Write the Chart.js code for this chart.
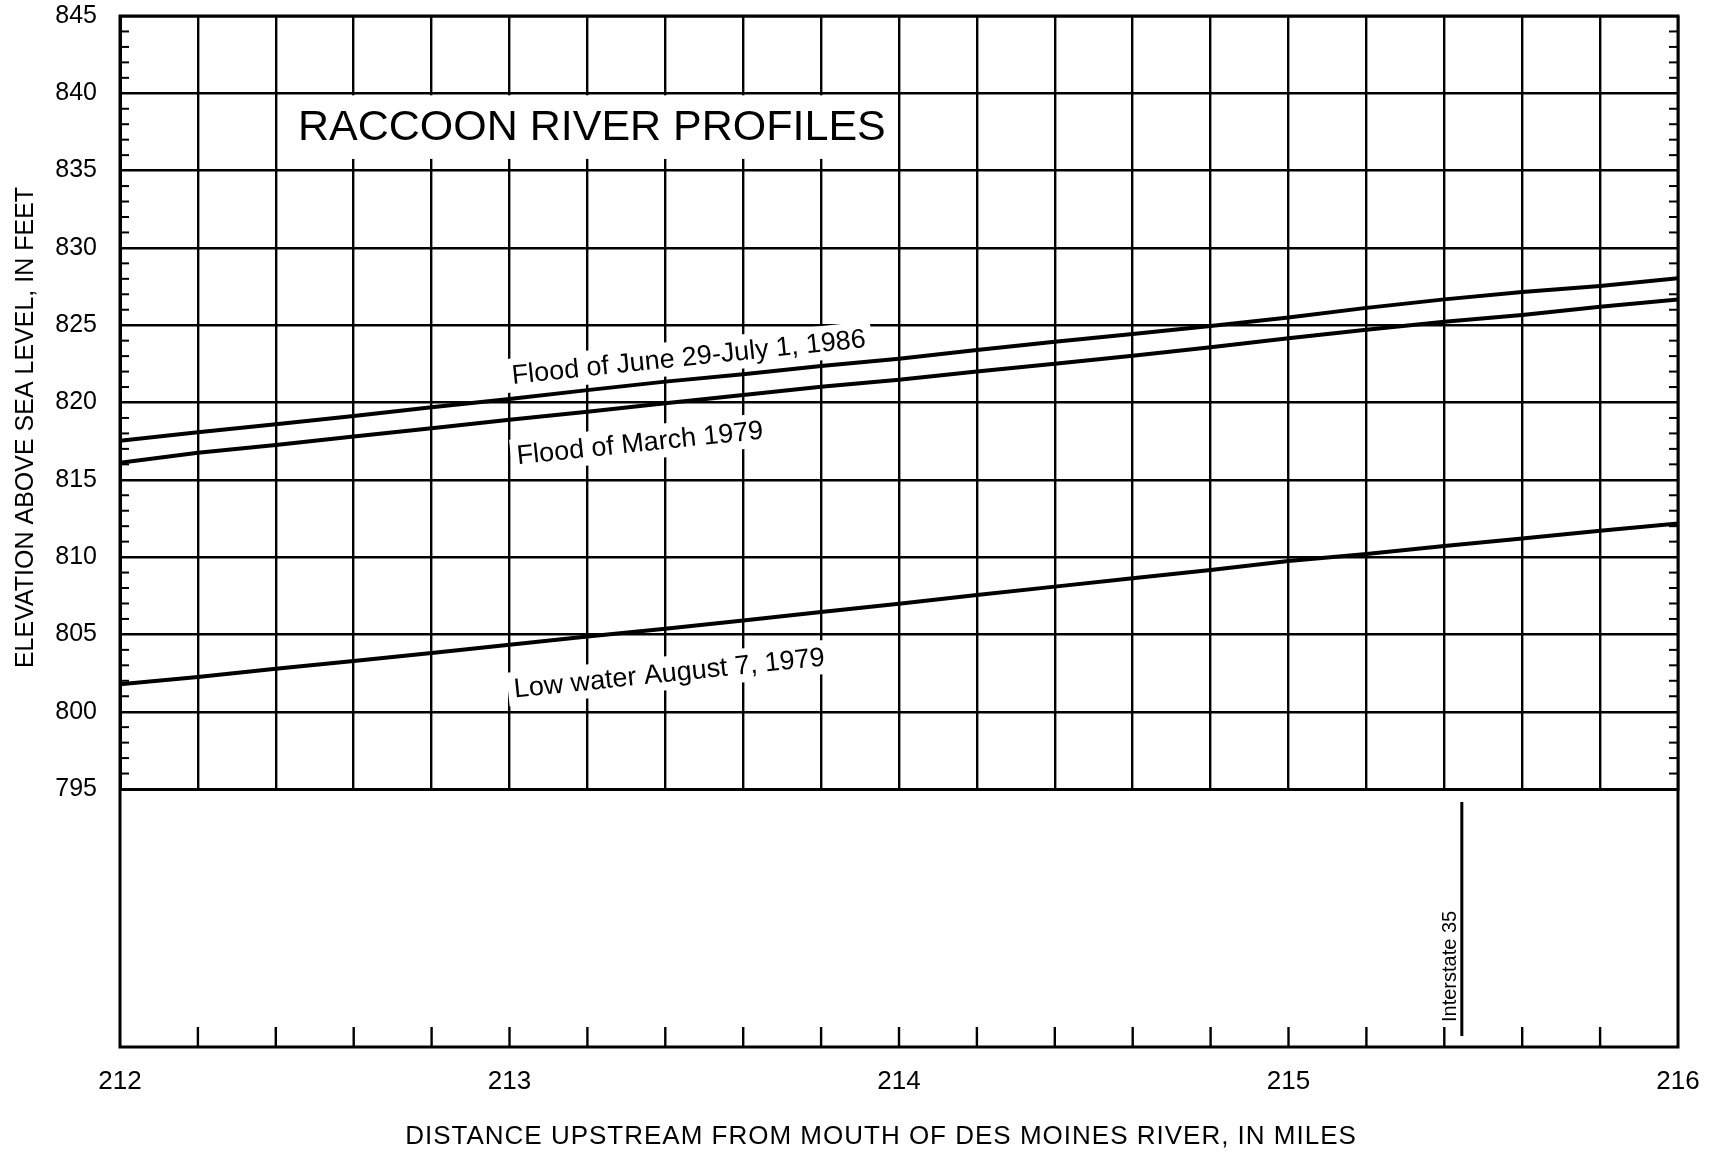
<!DOCTYPE html>
<html>
<head>
<meta charset="utf-8">
<title>Raccoon River profiles</title>
<script src="https://cdn.jsdelivr.net/npm/chart.js@4.4.1/dist/chart.umd.min.js"></script>
<style>
  html, body { margin: 0; padding: 0; background: #fff; overflow: hidden; }
  canvas { display: block; }
</style>
</head>
<body>
<canvas id="profileChart" width="1728" height="1155"></canvas>
<script>
// river miles read every 0.2 mile off the chart
const miles = [212.0, 212.2, 212.4, 212.6, 212.8, 213.0, 213.2, 213.4, 213.6, 213.8,
               214.0, 214.2, 214.4, 214.6, 214.8, 215.0, 215.2, 215.4, 215.6, 215.8, 216.0];
const flood1986 = [817.53, 818.07, 818.60, 819.13, 819.69, 820.22, 820.80, 821.35, 821.82, 822.36,
                   822.83, 823.40, 823.93, 824.43, 824.95, 825.50, 826.12, 826.67, 827.14, 827.54, 828.03];
const flood1979 = [816.10, 816.75, 817.25, 817.80, 818.33, 818.88, 819.40, 819.95, 820.48, 821.02,
                   821.47, 822.00, 822.50, 823.03, 823.57, 824.15, 824.70, 825.23, 825.66, 826.20, 826.67];
const lowWater1979 = [801.77, 802.24, 802.78, 803.28, 803.80, 804.33, 804.87, 805.36, 805.90, 806.45,
                      806.98, 807.55, 808.09, 808.63, 809.17, 809.75, 810.20, 810.72, 811.20, 811.70, 812.18];
const seriesNames = ['Flood of June 29-July 1, 1986', 'Flood of March 1979', 'Low water August 7, 1979'];
const xTickLabels = ['212', '213', '214', '215', '216'];
const landmarkNames = ['Interstate 35'];
const landmarkMiles = [215.445];
const chartTitle = 'RACCOON RIVER PROFILES';
const xTitle = 'DISTANCE UPSTREAM FROM MOUTH OF DES MOINES RIVER, IN MILES';
const yTitle = 'ELEVATION ABOVE SEA LEVEL, IN FEET';

const FONT = '"Liberation Sans", Arial, Helvetica, sans-serif';
// where each profile name sits (mile, elevation)
const labelAnchors = [[213.46, 822.94], [213.335, 817.38], [213.41, 802.5]];
const LOWER_PANEL = 258; // blank strip under 795 ft

function line(ctx, x1, y1, x2, y2) {
	ctx.beginPath();
	ctx.moveTo(x1, y1);
	ctx.lineTo(x2, y2);
	ctx.stroke();
}

const profilePlugin = {
	id: 'profile',
	beforeDatasetsDraw(chart) {
		const { ctx, scales: { x, y } } = chart;
		ctx.save();
		// title with white box over the grid
		ctx.font = '43px ' + FONT;
		const tx = x.getPixelForValue(212.457), ty = y.getPixelForValue(837.76);
		const tw = ctx.measureText(chartTitle).width;
		const boxTop = y.getPixelForValue(840) + 2;
		ctx.fillStyle = '#fff';
		ctx.fillRect(tx - 12, boxTop, tw + 20, ty + 31 - boxTop);
		ctx.fillStyle = '#000';
		ctx.textBaseline = 'middle';
		ctx.fillText(chartTitle, tx, ty);

		// profile names, tilted along their line
		ctx.font = '27px ' + FONT;
		ctx.textAlign = 'center';
		chart.data.datasets.forEach((ds, i) => {
			const d = ds.data, n = d.length;
			const ang = Math.atan2(y.getPixelForValue(d[n - 1].y) - y.getPixelForValue(d[0].y),
				x.getPixelForValue(d[n - 1].x) - x.getPixelForValue(d[0].x));
			const px = x.getPixelForValue(labelAnchors[i][0]);
			const py = y.getPixelForValue(labelAnchors[i][1]);
			ctx.save();
			ctx.translate(px, py);
			ctx.rotate(ang);
			const w = ctx.measureText(ds.label).width;
			ctx.fillStyle = '#fff';
			ctx.fillRect(-w / 2 - 6, -17, w + 12, 34);
			ctx.fillStyle = '#000';
			ctx.fillText(ds.label, 0, 1);
			ctx.restore();
		});
		ctx.restore();
	},
	afterDraw(chart) {
		const { ctx, chartArea: a, scales: { x, y } } = chart;
		const bottom = a.bottom + LOWER_PANEL;
		ctx.save();
		ctx.strokeStyle = '#000';
		ctx.lineWidth = 3;
		ctx.strokeRect(a.left, a.top, a.right - a.left, bottom - a.top);

		// 1-ft ticks inside both sides
		ctx.lineWidth = 2;
		for (let v = y.min + 1; v < y.max; v++) {
			if (v % 5 === 0) continue;
			const py = y.getPixelForValue(v);
			line(ctx, a.left, py, a.left + 9, py);
			line(ctx, a.right - 9, py, a.right, py);
		}
		// 0.2-mile ticks on the bottom edge
		ctx.lineWidth = 2.4;
		x.ticks.forEach(t => {
			if (t.value <= x.min || t.value >= x.max) return;
			const px = x.getPixelForValue(t.value);
			line(ctx, px, bottom, px, bottom - 20);
		});

		// landmarks
		landmarkMiles.forEach((m, i) => {
			const px = x.getPixelForValue(m);
			ctx.lineWidth = 3;
			line(ctx, px, a.bottom + 13, px, bottom - 11);
			ctx.save();
			ctx.translate(px - 11, bottom - 25);
			ctx.rotate(-Math.PI / 2);
			ctx.font = '20px ' + FONT;
			ctx.fillStyle = '#000';
			ctx.textAlign = 'left';
			ctx.textBaseline = 'middle';
			ctx.fillText(landmarkNames[i], 0, 0);
			ctx.restore();
		});

		// axis titles
		ctx.fillStyle = '#000';
		ctx.textAlign = 'center';
		ctx.textBaseline = 'middle';
		ctx.font = '26px ' + FONT;
		ctx.letterSpacing = '1px';
		ctx.fillText(xTitle, (a.left + a.right) / 2 - 18, bottom + 90);
		ctx.font = '25px ' + FONT;
		ctx.letterSpacing = '0px';
		ctx.save();
		ctx.translate(26, (a.top + a.bottom) / 2 + 25);
		ctx.rotate(-Math.PI / 2);
		ctx.fillText(yTitle, 0, 0);
		ctx.restore();
		ctx.restore();
	}
};

function points(values) {
	return miles.map((m, i) => ({ x: m, y: values[i] }));
}

const lineStyle = { borderColor: '#000', backgroundColor: '#000', borderWidth: 4, pointRadius: 0, fill: false, tension: 0 };

const ctx = document.getElementById('profileChart').getContext('2d');
const profileChart = new Chart(ctx, {
	type: 'line',
	data: {
		datasets: [
			Object.assign({ label: seriesNames[0], data: points(flood1986) }, lineStyle),
			Object.assign({ label: seriesNames[1], data: points(flood1979) }, lineStyle),
			Object.assign({ label: seriesNames[2], data: points(lowWater1979) }, lineStyle)
		]
	},
	options: {
		responsive: false,
		devicePixelRatio: 1,
		animation: false,
		layout: { padding: { left: 0, right: 50, top: 16, bottom: 0 } },
		plugins: { legend: { display: false }, tooltip: { enabled: false } },
		scales: {
			x: {
				type: 'linear',
				min: 212,
				max: 216,
				afterFit: s => { s.height = 366; },
				ticks: {
					stepSize: 0.2,
					autoSkip: false,
					maxRotation: 0,
					padding: 0,
					color: '#000',
					font: { family: FONT, size: 26 },
					callback: v => xTickLabels.includes(String(v)) ? String(v) : ''
				},
				// invisible tick marks push the labels down to below the blank strip
				grid: { color: '#000', lineWidth: 2.4, drawTicks: true, tickLength: 277, tickColor: 'rgba(0,0,0,0)' },
				border: { display: true, color: '#000', width: 3 }
			},
			y: {
				min: 795,
				max: 845,
				afterFit: s => { s.width = 120; },
				ticks: {
					stepSize: 5,
					padding: 0,
					color: '#000',
					font: { family: FONT, size: 25 }
				},
				grid: { color: '#000', lineWidth: 2.4, drawTicks: true, tickLength: 23, tickColor: 'rgba(0,0,0,0)' },
				border: { display: true, color: '#000', width: 3 }
			}
		}
	},
	plugins: [profilePlugin]
});
</script>
</body>
</html>
